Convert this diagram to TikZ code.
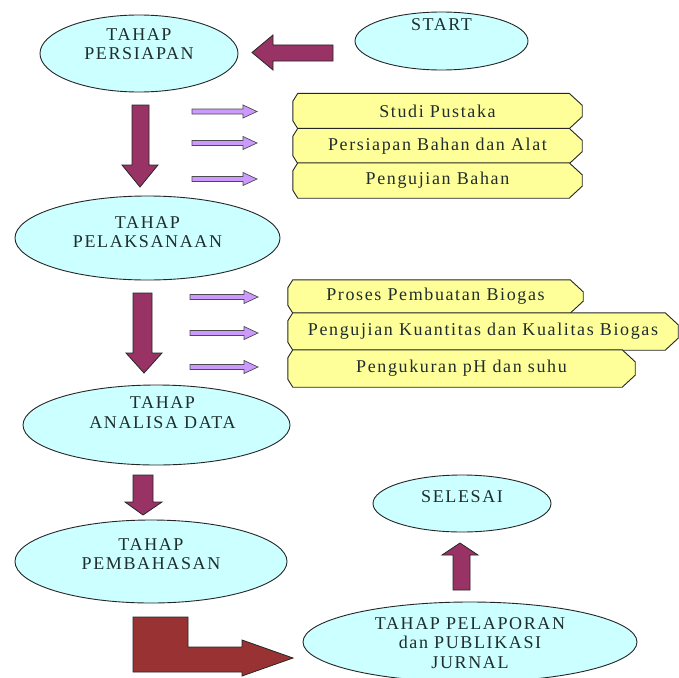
\documentclass[tikz,border=0pt]{standalone}
\usepackage{fontspec}
\setmainfont{Liberation Serif}[LetterSpace=9]
\usetikzlibrary{shapes.geometric,backgrounds}
\definecolor{stagefill}{HTML}{CCFFFF}
\definecolor{boxfill}{HTML}{FFFF99}
\definecolor{lav}{HTML}{CC99FF}
\definecolor{maroon}{HTML}{993366}
\definecolor{brick}{HTML}{993333}
\definecolor{textcol}{HTML}{1F2D2D}
\newcommand\lavarrow[3]{%
  \draw[lavarrowstyle] (#1,#3-2.5) -- (#2-14,#3-2.5) -- (#2-14,#3-6.5) -- (#2,#3) -- (#2-14,#3+6.5) -- (#2-14,#3+2.5) -- (#1,#3+2.5) -- cycle;}
\newcommand\chbox[1]{%
  \draw[boxline] ([xshift=5pt]#1.north west) -- ([xshift=-13pt]#1.north east) -- ([yshift=-12pt]#1.north east) -- ([yshift=12pt]#1.south east) -- ([xshift=-13pt]#1.south east) -- ([xshift=5pt]#1.south west) -- ([yshift=8pt]#1.south west) -- ([yshift=-8pt]#1.north west) -- cycle;}
\begin{document}
\begin{tikzpicture}[x=1pt,y=-1pt,
  stage/.style={ellipse, draw=black!85, line width=0.9pt, fill=stagefill, inner sep=0pt},
  txt/.style={font=\fontsize{18}{19.5}\selectfont, text=textcol, align=center, inner sep=0pt},
  boxtxt/.style={font=\fontsize{18}{19.5}\selectfont, text=textcol, inner sep=0pt},
  boxline/.style={draw=black!85, line width=0.9pt, fill=boxfill},
  lavarrowstyle/.style={fill=lav, draw=black!70, line width=0.7pt},
  bigarrow/.style={fill=maroon, draw=black!85, line width=0.8pt},
  larrow/.style={fill=brick, draw=black!85, line width=0.8pt}]
\useasboundingbox (0,0) rectangle (679,677);
\begin{pgfonlayer}{background}
\fill[white] (0,0) rectangle (679,677);
\end{pgfonlayer}

% stage ellipses
\node[stage, minimum width=173pt, minimum height=58pt] (start) at (441.5,41) {};
\node[txt] (startt) at ([yshift=16pt]start.center) {START};

\node[stage, minimum width=198pt, minimum height=77pt] (persiapan) at (139,53.5) {};
\node[txt] (persiapant) at ([yshift=9.5pt]persiapan.center) {TAHAP\\PERSIAPAN};

\node[stage, minimum width=265pt, minimum height=84pt] (pelaksanaan) at (147.5,238) {};
\node[txt] (pelaksanaant) at ([yshift=6pt]pelaksanaan.center) {TAHAP\\PELAKSANAAN};

\node[stage, minimum width=267pt, minimum height=80pt] (analisa) at (156.5,425) {};
\node[txt] (analisat) at ([xshift=6pt,yshift=12.5pt]analisa.center) {TAHAP\\ANALISA DATA};

\node[stage, minimum width=272pt, minimum height=83pt] (pembahasan) at (151,561.5) {};
\node[txt] (pembahasant) at ([yshift=7.5pt]pembahasan.center) {TAHAP\\PEMBAHASAN};

\node[stage, minimum width=178pt, minimum height=57pt] (selesai) at (462,503.5) {};
\node[txt] (selesait) at ([yshift=6.5pt]selesai.center) {SELESAI};

\node[stage, minimum width=334pt, minimum height=80pt] (pelaporan) at (470,642) {};
\node[txt, align=center] (pelaporant) at ([yshift=-1pt]pelaporan.center) {TAHAP PELAPORAN\\dan PUBLIKASI\\JURNAL};

% yellow boxes, set 1
\node[boxtxt, minimum width=289pt, minimum height=35pt] (b1) at (437.5,111) {Studi Pustaka};
\node[boxtxt, minimum width=289pt, minimum height=35pt] (b2) at (437.5,146) {Persiapan Bahan dan Alat};
\node[boxtxt, minimum width=289pt, minimum height=35pt] (b3) at (437.5,180.5) {Pengujian Bahan};
% yellow boxes, set 2
\node[boxtxt, minimum width=295pt, minimum height=33pt] (c1) at (435.5,296.5) {Proses Pembuatan Biogas};
\node[boxtxt, minimum width=390pt, minimum height=37pt] (c2) at (483,331.5) {Pengujian Kuantitas dan Kualitas Biogas};
\node[boxtxt, minimum width=347pt, minimum height=37pt] (c3) at (461.5,368.5) {Pengukuran pH dan suhu};
\begin{pgfonlayer}{background}
\chbox{b1}\chbox{b2}\chbox{b3}
\chbox{c1}\chbox{c2}\chbox{c3}
\end{pgfonlayer}

% lavender arrows
\lavarrow{192}{257}{111.5}
\lavarrow{192}{257}{143}
\lavarrow{192}{257}{179}
\lavarrow{190}{258}{297}
\lavarrow{190}{258}{333}
\lavarrow{190}{258}{367}

% big arrows
\draw[bigarrow] (333,45) -- (273,45) -- (273,35) -- (252,52.5) -- (273,70) -- (273,61) -- (333,61) -- cycle;
\draw[bigarrow] (132,105) -- (149,105) -- (149,165) -- (158,165) -- (140,187) -- (122,165) -- (132,165) -- cycle;
\draw[bigarrow] (133,293) -- (152,293) -- (152,353) -- (162,353) -- (144,373) -- (126,353) -- (133,353) -- cycle;
\draw[bigarrow] (133,475) -- (153,475) -- (153,502) -- (162,502) -- (143,515) -- (125,502) -- (133,502) -- cycle;
\draw[bigarrow] (453,590) -- (470,590) -- (470,555) -- (478,555) -- (460,543) -- (442,555) -- (453,555) -- cycle;
\draw[larrow] (133,617) -- (188,617) -- (188,647) -- (242,647) -- (242,640) -- (293,658) -- (242,676) -- (242,672) -- (133,672) -- cycle;
\end{tikzpicture}
\end{document}
